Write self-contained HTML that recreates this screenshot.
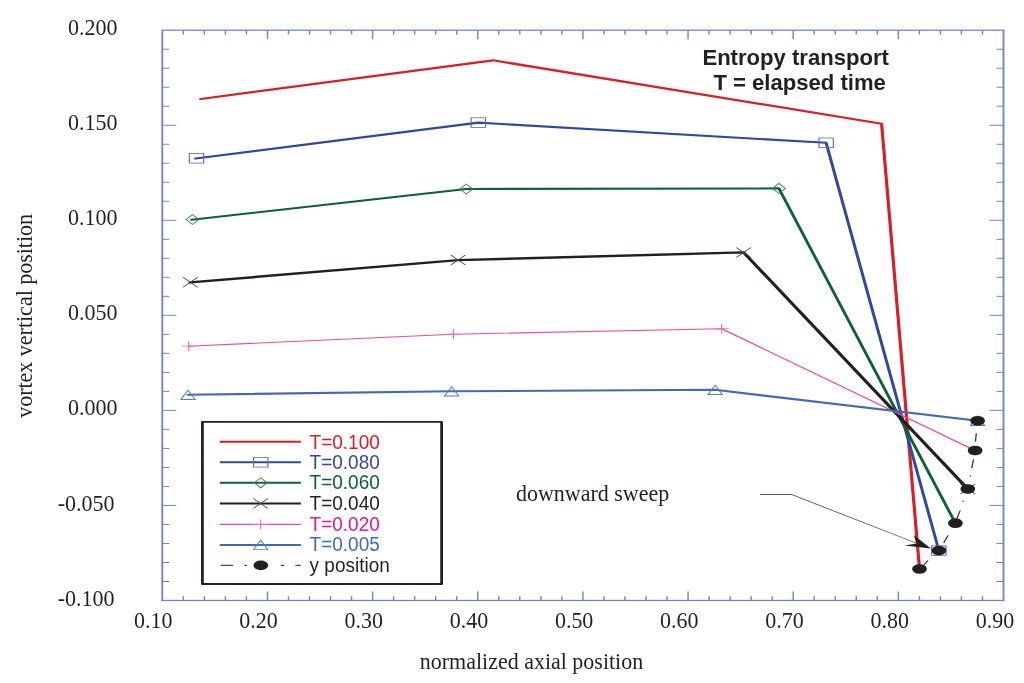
<!DOCTYPE html>
<html><head><meta charset="utf-8"><style>
html,body{margin:0;padding:0;background:#fff;}
body{width:1024px;height:683px;overflow:hidden;}
svg{display:block;will-change:transform;}
</style></head><body>
<svg width="1024" height="683" viewBox="0 0 1024 683">
<rect width="1024" height="683" fill="#fff"/>
<g transform="scale(1.45,1)">
<rect x="111.93" y="30.20" width="580.14" height="570.30" fill="none" stroke="#7385c8" stroke-width="1.3"/>
<line x1="126.43" y1="30.20" x2="126.43" y2="34.50" stroke="#7385c8" stroke-width="1.0" />
<line x1="126.43" y1="600.50" x2="126.43" y2="596.20" stroke="#7385c8" stroke-width="1.0" />
<line x1="140.94" y1="30.20" x2="140.94" y2="34.50" stroke="#7385c8" stroke-width="1.0" />
<line x1="140.94" y1="600.50" x2="140.94" y2="596.20" stroke="#7385c8" stroke-width="1.0" />
<line x1="155.44" y1="30.20" x2="155.44" y2="34.50" stroke="#7385c8" stroke-width="1.0" />
<line x1="155.44" y1="600.50" x2="155.44" y2="596.20" stroke="#7385c8" stroke-width="1.0" />
<line x1="169.94" y1="30.20" x2="169.94" y2="34.50" stroke="#7385c8" stroke-width="1.0" />
<line x1="169.94" y1="600.50" x2="169.94" y2="596.20" stroke="#7385c8" stroke-width="1.0" />
<line x1="184.45" y1="30.20" x2="184.45" y2="39.20" stroke="#7385c8" stroke-width="1.0" />
<line x1="184.45" y1="600.50" x2="184.45" y2="591.50" stroke="#7385c8" stroke-width="1.0" />
<line x1="198.95" y1="30.20" x2="198.95" y2="34.50" stroke="#7385c8" stroke-width="1.0" />
<line x1="198.95" y1="600.50" x2="198.95" y2="596.20" stroke="#7385c8" stroke-width="1.0" />
<line x1="213.46" y1="30.20" x2="213.46" y2="34.50" stroke="#7385c8" stroke-width="1.0" />
<line x1="213.46" y1="600.50" x2="213.46" y2="596.20" stroke="#7385c8" stroke-width="1.0" />
<line x1="227.96" y1="30.20" x2="227.96" y2="34.50" stroke="#7385c8" stroke-width="1.0" />
<line x1="227.96" y1="600.50" x2="227.96" y2="596.20" stroke="#7385c8" stroke-width="1.0" />
<line x1="242.46" y1="30.20" x2="242.46" y2="34.50" stroke="#7385c8" stroke-width="1.0" />
<line x1="242.46" y1="600.50" x2="242.46" y2="596.20" stroke="#7385c8" stroke-width="1.0" />
<line x1="256.97" y1="30.20" x2="256.97" y2="39.20" stroke="#7385c8" stroke-width="1.0" />
<line x1="256.97" y1="600.50" x2="256.97" y2="591.50" stroke="#7385c8" stroke-width="1.0" />
<line x1="271.47" y1="30.20" x2="271.47" y2="34.50" stroke="#7385c8" stroke-width="1.0" />
<line x1="271.47" y1="600.50" x2="271.47" y2="596.20" stroke="#7385c8" stroke-width="1.0" />
<line x1="285.97" y1="30.20" x2="285.97" y2="34.50" stroke="#7385c8" stroke-width="1.0" />
<line x1="285.97" y1="600.50" x2="285.97" y2="596.20" stroke="#7385c8" stroke-width="1.0" />
<line x1="300.48" y1="30.20" x2="300.48" y2="34.50" stroke="#7385c8" stroke-width="1.0" />
<line x1="300.48" y1="600.50" x2="300.48" y2="596.20" stroke="#7385c8" stroke-width="1.0" />
<line x1="314.98" y1="30.20" x2="314.98" y2="34.50" stroke="#7385c8" stroke-width="1.0" />
<line x1="314.98" y1="600.50" x2="314.98" y2="596.20" stroke="#7385c8" stroke-width="1.0" />
<line x1="329.48" y1="30.20" x2="329.48" y2="39.20" stroke="#7385c8" stroke-width="1.0" />
<line x1="329.48" y1="600.50" x2="329.48" y2="591.50" stroke="#7385c8" stroke-width="1.0" />
<line x1="343.99" y1="30.20" x2="343.99" y2="34.50" stroke="#7385c8" stroke-width="1.0" />
<line x1="343.99" y1="600.50" x2="343.99" y2="596.20" stroke="#7385c8" stroke-width="1.0" />
<line x1="358.49" y1="30.20" x2="358.49" y2="34.50" stroke="#7385c8" stroke-width="1.0" />
<line x1="358.49" y1="600.50" x2="358.49" y2="596.20" stroke="#7385c8" stroke-width="1.0" />
<line x1="372.99" y1="30.20" x2="372.99" y2="34.50" stroke="#7385c8" stroke-width="1.0" />
<line x1="372.99" y1="600.50" x2="372.99" y2="596.20" stroke="#7385c8" stroke-width="1.0" />
<line x1="387.50" y1="30.20" x2="387.50" y2="34.50" stroke="#7385c8" stroke-width="1.0" />
<line x1="387.50" y1="600.50" x2="387.50" y2="596.20" stroke="#7385c8" stroke-width="1.0" />
<line x1="402.00" y1="30.20" x2="402.00" y2="39.20" stroke="#7385c8" stroke-width="1.0" />
<line x1="402.00" y1="600.50" x2="402.00" y2="591.50" stroke="#7385c8" stroke-width="1.0" />
<line x1="416.50" y1="30.20" x2="416.50" y2="34.50" stroke="#7385c8" stroke-width="1.0" />
<line x1="416.50" y1="600.50" x2="416.50" y2="596.20" stroke="#7385c8" stroke-width="1.0" />
<line x1="431.01" y1="30.20" x2="431.01" y2="34.50" stroke="#7385c8" stroke-width="1.0" />
<line x1="431.01" y1="600.50" x2="431.01" y2="596.20" stroke="#7385c8" stroke-width="1.0" />
<line x1="445.51" y1="30.20" x2="445.51" y2="34.50" stroke="#7385c8" stroke-width="1.0" />
<line x1="445.51" y1="600.50" x2="445.51" y2="596.20" stroke="#7385c8" stroke-width="1.0" />
<line x1="460.01" y1="30.20" x2="460.01" y2="34.50" stroke="#7385c8" stroke-width="1.0" />
<line x1="460.01" y1="600.50" x2="460.01" y2="596.20" stroke="#7385c8" stroke-width="1.0" />
<line x1="474.52" y1="30.20" x2="474.52" y2="39.20" stroke="#7385c8" stroke-width="1.0" />
<line x1="474.52" y1="600.50" x2="474.52" y2="591.50" stroke="#7385c8" stroke-width="1.0" />
<line x1="489.02" y1="30.20" x2="489.02" y2="34.50" stroke="#7385c8" stroke-width="1.0" />
<line x1="489.02" y1="600.50" x2="489.02" y2="596.20" stroke="#7385c8" stroke-width="1.0" />
<line x1="503.52" y1="30.20" x2="503.52" y2="34.50" stroke="#7385c8" stroke-width="1.0" />
<line x1="503.52" y1="600.50" x2="503.52" y2="596.20" stroke="#7385c8" stroke-width="1.0" />
<line x1="518.03" y1="30.20" x2="518.03" y2="34.50" stroke="#7385c8" stroke-width="1.0" />
<line x1="518.03" y1="600.50" x2="518.03" y2="596.20" stroke="#7385c8" stroke-width="1.0" />
<line x1="532.53" y1="30.20" x2="532.53" y2="34.50" stroke="#7385c8" stroke-width="1.0" />
<line x1="532.53" y1="600.50" x2="532.53" y2="596.20" stroke="#7385c8" stroke-width="1.0" />
<line x1="547.03" y1="30.20" x2="547.03" y2="39.20" stroke="#7385c8" stroke-width="1.0" />
<line x1="547.03" y1="600.50" x2="547.03" y2="591.50" stroke="#7385c8" stroke-width="1.0" />
<line x1="561.54" y1="30.20" x2="561.54" y2="34.50" stroke="#7385c8" stroke-width="1.0" />
<line x1="561.54" y1="600.50" x2="561.54" y2="596.20" stroke="#7385c8" stroke-width="1.0" />
<line x1="576.04" y1="30.20" x2="576.04" y2="34.50" stroke="#7385c8" stroke-width="1.0" />
<line x1="576.04" y1="600.50" x2="576.04" y2="596.20" stroke="#7385c8" stroke-width="1.0" />
<line x1="590.54" y1="30.20" x2="590.54" y2="34.50" stroke="#7385c8" stroke-width="1.0" />
<line x1="590.54" y1="600.50" x2="590.54" y2="596.20" stroke="#7385c8" stroke-width="1.0" />
<line x1="605.05" y1="30.20" x2="605.05" y2="34.50" stroke="#7385c8" stroke-width="1.0" />
<line x1="605.05" y1="600.50" x2="605.05" y2="596.20" stroke="#7385c8" stroke-width="1.0" />
<line x1="619.55" y1="30.20" x2="619.55" y2="39.20" stroke="#7385c8" stroke-width="1.0" />
<line x1="619.55" y1="600.50" x2="619.55" y2="591.50" stroke="#7385c8" stroke-width="1.0" />
<line x1="634.06" y1="30.20" x2="634.06" y2="34.50" stroke="#7385c8" stroke-width="1.0" />
<line x1="634.06" y1="600.50" x2="634.06" y2="596.20" stroke="#7385c8" stroke-width="1.0" />
<line x1="648.56" y1="30.20" x2="648.56" y2="34.50" stroke="#7385c8" stroke-width="1.0" />
<line x1="648.56" y1="600.50" x2="648.56" y2="596.20" stroke="#7385c8" stroke-width="1.0" />
<line x1="663.06" y1="30.20" x2="663.06" y2="34.50" stroke="#7385c8" stroke-width="1.0" />
<line x1="663.06" y1="600.50" x2="663.06" y2="596.20" stroke="#7385c8" stroke-width="1.0" />
<line x1="677.57" y1="30.20" x2="677.57" y2="34.50" stroke="#7385c8" stroke-width="1.0" />
<line x1="677.57" y1="600.50" x2="677.57" y2="596.20" stroke="#7385c8" stroke-width="1.0" />
<line x1="111.93" y1="49.21" x2="116.76" y2="49.21" stroke="#7385c8" stroke-width="1.0" />
<line x1="692.07" y1="49.21" x2="687.24" y2="49.21" stroke="#7385c8" stroke-width="1.0" />
<line x1="111.93" y1="68.22" x2="116.76" y2="68.22" stroke="#7385c8" stroke-width="1.0" />
<line x1="692.07" y1="68.22" x2="687.24" y2="68.22" stroke="#7385c8" stroke-width="1.0" />
<line x1="111.93" y1="87.23" x2="116.76" y2="87.23" stroke="#7385c8" stroke-width="1.0" />
<line x1="692.07" y1="87.23" x2="687.24" y2="87.23" stroke="#7385c8" stroke-width="1.0" />
<line x1="111.93" y1="106.24" x2="116.76" y2="106.24" stroke="#7385c8" stroke-width="1.0" />
<line x1="692.07" y1="106.24" x2="687.24" y2="106.24" stroke="#7385c8" stroke-width="1.0" />
<line x1="111.93" y1="125.25" x2="121.59" y2="125.25" stroke="#7385c8" stroke-width="1.0" />
<line x1="692.07" y1="125.25" x2="682.41" y2="125.25" stroke="#7385c8" stroke-width="1.0" />
<line x1="111.93" y1="144.26" x2="116.76" y2="144.26" stroke="#7385c8" stroke-width="1.0" />
<line x1="692.07" y1="144.26" x2="687.24" y2="144.26" stroke="#7385c8" stroke-width="1.0" />
<line x1="111.93" y1="163.27" x2="116.76" y2="163.27" stroke="#7385c8" stroke-width="1.0" />
<line x1="692.07" y1="163.27" x2="687.24" y2="163.27" stroke="#7385c8" stroke-width="1.0" />
<line x1="111.93" y1="182.28" x2="116.76" y2="182.28" stroke="#7385c8" stroke-width="1.0" />
<line x1="692.07" y1="182.28" x2="687.24" y2="182.28" stroke="#7385c8" stroke-width="1.0" />
<line x1="111.93" y1="201.29" x2="116.76" y2="201.29" stroke="#7385c8" stroke-width="1.0" />
<line x1="692.07" y1="201.29" x2="687.24" y2="201.29" stroke="#7385c8" stroke-width="1.0" />
<line x1="111.93" y1="220.30" x2="121.59" y2="220.30" stroke="#7385c8" stroke-width="1.0" />
<line x1="692.07" y1="220.30" x2="682.41" y2="220.30" stroke="#7385c8" stroke-width="1.0" />
<line x1="111.93" y1="239.31" x2="116.76" y2="239.31" stroke="#7385c8" stroke-width="1.0" />
<line x1="692.07" y1="239.31" x2="687.24" y2="239.31" stroke="#7385c8" stroke-width="1.0" />
<line x1="111.93" y1="258.32" x2="116.76" y2="258.32" stroke="#7385c8" stroke-width="1.0" />
<line x1="692.07" y1="258.32" x2="687.24" y2="258.32" stroke="#7385c8" stroke-width="1.0" />
<line x1="111.93" y1="277.33" x2="116.76" y2="277.33" stroke="#7385c8" stroke-width="1.0" />
<line x1="692.07" y1="277.33" x2="687.24" y2="277.33" stroke="#7385c8" stroke-width="1.0" />
<line x1="111.93" y1="296.34" x2="116.76" y2="296.34" stroke="#7385c8" stroke-width="1.0" />
<line x1="692.07" y1="296.34" x2="687.24" y2="296.34" stroke="#7385c8" stroke-width="1.0" />
<line x1="111.93" y1="315.35" x2="121.59" y2="315.35" stroke="#7385c8" stroke-width="1.0" />
<line x1="692.07" y1="315.35" x2="682.41" y2="315.35" stroke="#7385c8" stroke-width="1.0" />
<line x1="111.93" y1="334.36" x2="116.76" y2="334.36" stroke="#7385c8" stroke-width="1.0" />
<line x1="692.07" y1="334.36" x2="687.24" y2="334.36" stroke="#7385c8" stroke-width="1.0" />
<line x1="111.93" y1="353.37" x2="116.76" y2="353.37" stroke="#7385c8" stroke-width="1.0" />
<line x1="692.07" y1="353.37" x2="687.24" y2="353.37" stroke="#7385c8" stroke-width="1.0" />
<line x1="111.93" y1="372.38" x2="116.76" y2="372.38" stroke="#7385c8" stroke-width="1.0" />
<line x1="692.07" y1="372.38" x2="687.24" y2="372.38" stroke="#7385c8" stroke-width="1.0" />
<line x1="111.93" y1="391.39" x2="116.76" y2="391.39" stroke="#7385c8" stroke-width="1.0" />
<line x1="692.07" y1="391.39" x2="687.24" y2="391.39" stroke="#7385c8" stroke-width="1.0" />
<line x1="111.93" y1="410.40" x2="121.59" y2="410.40" stroke="#7385c8" stroke-width="1.0" />
<line x1="692.07" y1="410.40" x2="682.41" y2="410.40" stroke="#7385c8" stroke-width="1.0" />
<line x1="111.93" y1="429.41" x2="116.76" y2="429.41" stroke="#7385c8" stroke-width="1.0" />
<line x1="692.07" y1="429.41" x2="687.24" y2="429.41" stroke="#7385c8" stroke-width="1.0" />
<line x1="111.93" y1="448.42" x2="116.76" y2="448.42" stroke="#7385c8" stroke-width="1.0" />
<line x1="692.07" y1="448.42" x2="687.24" y2="448.42" stroke="#7385c8" stroke-width="1.0" />
<line x1="111.93" y1="467.43" x2="116.76" y2="467.43" stroke="#7385c8" stroke-width="1.0" />
<line x1="692.07" y1="467.43" x2="687.24" y2="467.43" stroke="#7385c8" stroke-width="1.0" />
<line x1="111.93" y1="486.44" x2="116.76" y2="486.44" stroke="#7385c8" stroke-width="1.0" />
<line x1="692.07" y1="486.44" x2="687.24" y2="486.44" stroke="#7385c8" stroke-width="1.0" />
<line x1="111.93" y1="505.45" x2="121.59" y2="505.45" stroke="#7385c8" stroke-width="1.0" />
<line x1="692.07" y1="505.45" x2="682.41" y2="505.45" stroke="#7385c8" stroke-width="1.0" />
<line x1="111.93" y1="524.46" x2="116.76" y2="524.46" stroke="#7385c8" stroke-width="1.0" />
<line x1="692.07" y1="524.46" x2="687.24" y2="524.46" stroke="#7385c8" stroke-width="1.0" />
<line x1="111.93" y1="543.47" x2="116.76" y2="543.47" stroke="#7385c8" stroke-width="1.0" />
<line x1="692.07" y1="543.47" x2="687.24" y2="543.47" stroke="#7385c8" stroke-width="1.0" />
<line x1="111.93" y1="562.48" x2="116.76" y2="562.48" stroke="#7385c8" stroke-width="1.0" />
<line x1="692.07" y1="562.48" x2="687.24" y2="562.48" stroke="#7385c8" stroke-width="1.0" />
<line x1="111.93" y1="581.49" x2="116.76" y2="581.49" stroke="#7385c8" stroke-width="1.0" />
<line x1="692.07" y1="581.49" x2="687.24" y2="581.49" stroke="#7385c8" stroke-width="1.0" />
<polyline points="138.41,99.00 340.00,60.30 608.00,123.70 634.14,569.00" fill="none" stroke="#d81e27" stroke-width="2.2" stroke-linejoin="round" stroke-linecap="round" />
<polyline points="134.90,158.50 329.86,122.60 569.72,142.80 647.52,550.60" fill="none" stroke="#33479f" stroke-width="2.1" stroke-linejoin="round" stroke-linecap="round" />
<polyline points="132.14,219.70 321.52,189.00 537.17,188.40 658.90,523.20" fill="none" stroke="#0d6133" stroke-width="2.1" stroke-linejoin="round" stroke-linecap="round" />
<polyline points="131.17,282.40 315.93,260.10 512.83,252.40 667.45,489.00" fill="none" stroke="#231f20" stroke-width="2.45" stroke-linejoin="round" stroke-linecap="round" />
<polyline points="130.14,346.20 312.69,334.20 497.72,328.70 672.48,450.50" fill="none" stroke="#ee4a9e" stroke-width="1.1" stroke-linejoin="round" stroke-linecap="round" />
<polyline points="129.66,394.80 311.45,391.30 493.24,389.80 674.21,420.80" fill="none" stroke="#4169b4" stroke-width="2.1" stroke-linejoin="round" stroke-linecap="round" />
<rect x="130.55" y="153.50" width="9.93" height="9.60" fill="none" stroke="#5b6dbd" stroke-width="0.8"/>
<rect x="324.90" y="117.80" width="9.93" height="9.60" fill="none" stroke="#5b6dbd" stroke-width="0.8"/>
<rect x="564.76" y="138.00" width="9.93" height="9.60" fill="none" stroke="#5b6dbd" stroke-width="0.8"/>
<rect x="642.55" y="545.80" width="9.93" height="9.60" fill="none" stroke="#5b6dbd" stroke-width="0.8"/>
<polygon points="128.34,219.50 132.76,214.50 137.17,219.50 132.76,224.50" fill="none" stroke="#3f8358" stroke-width="0.8"/>
<polygon points="317.10,189.00 321.52,184.00 325.93,189.00 321.52,194.00" fill="none" stroke="#3f8358" stroke-width="0.8"/>
<polygon points="532.76,188.40 537.17,183.40 541.59,188.40 537.17,193.40" fill="none" stroke="#3f8358" stroke-width="0.8"/>
<path d="M126.21,277.20L136.28,287.20M126.21,287.20L136.28,277.20" stroke="#4a4a4a" stroke-width="0.75" fill="none"/>
<path d="M310.90,255.10L320.97,265.10M310.90,265.10L320.97,255.10" stroke="#4a4a4a" stroke-width="0.75" fill="none"/>
<path d="M507.79,247.40L517.86,257.40M507.79,257.40L517.86,247.40" stroke="#4a4a4a" stroke-width="0.75" fill="none"/>
<path d="M662.41,484.00L672.48,494.00M662.41,494.00L672.48,484.00" stroke="#4a4a4a" stroke-width="0.75" fill="none"/>
<path d="M125.31,346.20L134.97,346.20M130.14,341.20L130.14,351.20" stroke="#ef6fb2" stroke-width="0.8" fill="none"/>
<path d="M307.86,334.20L317.52,334.20M312.69,329.20L312.69,339.20" stroke="#ef6fb2" stroke-width="0.8" fill="none"/>
<path d="M492.90,328.70L502.55,328.70M497.72,323.70L497.72,333.70" stroke="#ef6fb2" stroke-width="0.8" fill="none"/>
<polygon points="124.76,399.50 129.66,390.10 134.55,399.50" fill="none" stroke="#5a7bc2" stroke-width="0.8"/>
<polygon points="306.55,396.00 311.45,386.60 316.34,396.00" fill="none" stroke="#5a7bc2" stroke-width="0.8"/>
<polygon points="488.34,394.50 493.24,385.10 498.14,394.50" fill="none" stroke="#5a7bc2" stroke-width="0.8"/>
<polygon points="669.31,425.50 674.21,416.10 679.10,425.50" fill="none" stroke="#5a7bc2" stroke-width="0.8"/>
<line x1="673.31" y1="433.40" x2="672.69" y2="441.70" stroke="#333" stroke-width="0.9" />
<line x1="671.45" y1="459.30" x2="670.14" y2="468.10" stroke="#333" stroke-width="0.9" />
<line x1="669.31" y1="475.50" x2="669.03" y2="476.60" stroke="#333" stroke-width="0.9" />
<line x1="664.48" y1="500.60" x2="664.14" y2="501.80" stroke="#333" stroke-width="0.9" />
<line x1="662.21" y1="510.50" x2="659.93" y2="518.40" stroke="#333" stroke-width="0.9" />
<line x1="653.86" y1="535.30" x2="650.83" y2="543.00" stroke="#333" stroke-width="0.9" />
<line x1="640.00" y1="560.50" x2="637.17" y2="564.90" stroke="#333" stroke-width="0.9" />
<ellipse cx="674.21" cy="420.80" rx="5.07" ry="4.85" fill="#231f20"/>
<ellipse cx="672.48" cy="450.50" rx="5.07" ry="4.85" fill="#231f20"/>
<ellipse cx="667.45" cy="489.00" rx="5.07" ry="4.85" fill="#231f20"/>
<ellipse cx="658.90" cy="523.20" rx="5.07" ry="4.85" fill="#231f20"/>
<ellipse cx="647.52" cy="550.60" rx="5.07" ry="4.85" fill="#231f20"/>
<ellipse cx="634.14" cy="569.00" rx="5.07" ry="4.85" fill="#231f20"/>
<polyline points="524.14,494.5 545.79,494.5 631.72,543" fill="none" stroke="#555" stroke-width="0.8"/>
<polygon points="642.00,548.50 630.14,535.00 632.28,543.60 623.79,545.50" fill="#231f20"/>
<rect x="139.59" y="421.9" width="164.97" height="162.10000000000002" fill="#fff" stroke="#231f20" stroke-width="1.9" stroke-linejoin="round"/>
<line x1="151.59" y1="441.80" x2="207.52" y2="441.80" stroke="#d81e27" stroke-width="2.0" />
<line x1="151.59" y1="462.30" x2="207.52" y2="462.30" stroke="#33479f" stroke-width="2.0" />
<rect x="174.83" y="457.50" width="9.93" height="9.60" fill="none" stroke="#5b6dbd" stroke-width="0.8"/>
<line x1="151.59" y1="482.80" x2="207.52" y2="482.80" stroke="#0d6133" stroke-width="2.0" />
<polygon points="175.38,482.80 179.79,477.80 184.21,482.80 179.79,487.80" fill="none" stroke="#3f8358" stroke-width="0.8"/>
<line x1="151.59" y1="503.50" x2="207.52" y2="503.50" stroke="#231f20" stroke-width="2.0" />
<path d="M174.76,498.50L184.83,508.50M174.76,508.50L184.83,498.50" stroke="#4a4a4a" stroke-width="0.75" fill="none"/>
<line x1="151.59" y1="524.40" x2="207.52" y2="524.40" stroke="#ee4a9e" stroke-width="1.1" />
<path d="M174.97,524.40L184.62,524.40M179.79,519.40L179.79,529.40" stroke="#ef6fb2" stroke-width="0.8" fill="none"/>
<line x1="151.59" y1="544.90" x2="207.52" y2="544.90" stroke="#4169b4" stroke-width="2.0" />
<polygon points="174.90,549.60 179.79,540.20 184.69,549.60" fill="none" stroke="#5a7bc2" stroke-width="0.8"/>
<line x1="152.21" y1="565.30" x2="160.69" y2="565.30" stroke="#231f20" stroke-width="1.0" />
<line x1="168.41" y1="565.30" x2="170.34" y2="565.30" stroke="#231f20" stroke-width="1.0" />
<line x1="193.59" y1="565.30" x2="196.00" y2="565.30" stroke="#231f20" stroke-width="1.0" />
<line x1="203.72" y1="565.30" x2="207.45" y2="565.30" stroke="#231f20" stroke-width="1.0" />
<ellipse cx="179.86" cy="565.40" rx="5.07" ry="4.85" fill="#231f20"/>
</g>
<text x="0" y="0" transform="translate(68.1,35.0) scale(1,1.08)" font-family="Liberation Serif" font-size="22" fill="#231f20" font-weight="normal" >0.200</text>
<text x="0" y="0" transform="translate(68.1,130.0) scale(1,1.08)" font-family="Liberation Serif" font-size="22" fill="#231f20" font-weight="normal" >0.150</text>
<text x="0" y="0" transform="translate(68.1,225.1) scale(1,1.08)" font-family="Liberation Serif" font-size="22" fill="#231f20" font-weight="normal" >0.100</text>
<text x="0" y="0" transform="translate(68.1,320.0) scale(1,1.08)" font-family="Liberation Serif" font-size="22" fill="#231f20" font-weight="normal" >0.050</text>
<text x="0" y="0" transform="translate(68.1,415.1) scale(1,1.08)" font-family="Liberation Serif" font-size="22" fill="#231f20" font-weight="normal" >0.000</text>
<text x="0" y="0" transform="translate(57.8,510.8) scale(1,1.08)" font-family="Liberation Serif" font-size="22" fill="#231f20" font-weight="normal" >-0.050</text>
<text x="0" y="0" transform="translate(57.8,605.5) scale(1,1.08)" font-family="Liberation Serif" font-size="22" fill="#231f20" font-weight="normal" >-0.100</text>
<text x="0" y="0" transform="translate(134.1,627.8) scale(1,1.08)" font-family="Liberation Serif" font-size="22" fill="#231f20" font-weight="normal" >0.10</text>
<text x="0" y="0" transform="translate(239.3,627.8) scale(1,1.08)" font-family="Liberation Serif" font-size="22" fill="#231f20" font-weight="normal" >0.20</text>
<text x="0" y="0" transform="translate(344.5,627.8) scale(1,1.08)" font-family="Liberation Serif" font-size="22" fill="#231f20" font-weight="normal" >0.30</text>
<text x="0" y="0" transform="translate(449.7,627.8) scale(1,1.08)" font-family="Liberation Serif" font-size="22" fill="#231f20" font-weight="normal" >0.40</text>
<text x="0" y="0" transform="translate(554.9,627.8) scale(1,1.08)" font-family="Liberation Serif" font-size="22" fill="#231f20" font-weight="normal" >0.50</text>
<text x="0" y="0" transform="translate(660.1,627.8) scale(1,1.08)" font-family="Liberation Serif" font-size="22" fill="#231f20" font-weight="normal" >0.60</text>
<text x="0" y="0" transform="translate(765.3,627.8) scale(1,1.08)" font-family="Liberation Serif" font-size="22" fill="#231f20" font-weight="normal" >0.70</text>
<text x="0" y="0" transform="translate(870.5,627.8) scale(1,1.08)" font-family="Liberation Serif" font-size="22" fill="#231f20" font-weight="normal" >0.80</text>
<text x="0" y="0" transform="translate(975.7,627.8) scale(1,1.08)" font-family="Liberation Serif" font-size="22" fill="#231f20" font-weight="normal" >0.90</text>
<text x="0" y="0" transform="translate(419.8,668.7) scale(1,1.08)" font-family="Liberation Serif" font-size="22" fill="#231f20" font-weight="normal" >normalized axial position</text>
<text x="0" y="0" transform="translate(31.9,417.8) rotate(-90) scale(1,1.08)" font-family="Liberation Serif" font-size="22" fill="#231f20">vortex vertical position</text>
<text x="0" y="0" transform="translate(516,501) scale(1,1.08)" font-family="Liberation Serif" font-size="22" fill="#231f20" font-weight="normal" >downward sweep</text>
<text x="0" y="0" transform="translate(702.4,65.2) scale(1,1.03)" font-family="Liberation Sans" font-size="22.1" fill="#231f20" font-weight="bold" >Entropy transport</text>
<text x="0" y="0" transform="translate(713.4,90.2) scale(1,1.03)" font-family="Liberation Sans" font-size="22.1" fill="#231f20" font-weight="bold" >T = elapsed time</text>
<text x="0" y="0" transform="translate(309.6,448.75) scale(1,1.065)" font-family="Liberation Sans" font-size="19" fill="#d81e27" font-weight="normal" >T=0.100</text>
<text x="0" y="0" transform="translate(309.6,468.9) scale(1,1.065)" font-family="Liberation Sans" font-size="19" fill="#33479f" font-weight="normal" >T=0.080</text>
<text x="0" y="0" transform="translate(309.6,489.4) scale(1,1.065)" font-family="Liberation Sans" font-size="19" fill="#0d6133" font-weight="normal" >T=0.060</text>
<text x="0" y="0" transform="translate(309.6,510.0) scale(1,1.065)" font-family="Liberation Sans" font-size="19" fill="#231f20" font-weight="normal" >T=0.040</text>
<text x="0" y="0" transform="translate(309.6,531.0) scale(1,1.065)" font-family="Liberation Sans" font-size="19" fill="#e5197f" font-weight="normal" >T=0.020</text>
<text x="0" y="0" transform="translate(309.6,551.4) scale(1,1.065)" font-family="Liberation Sans" font-size="19" fill="#4169b4" font-weight="normal" >T=0.005</text>
<text x="0" y="0" transform="translate(309.6,571.9) scale(1,1.065)" font-family="Liberation Sans" font-size="19" fill="#231f20" font-weight="normal" >y position</text>
</svg>
</body></html>
